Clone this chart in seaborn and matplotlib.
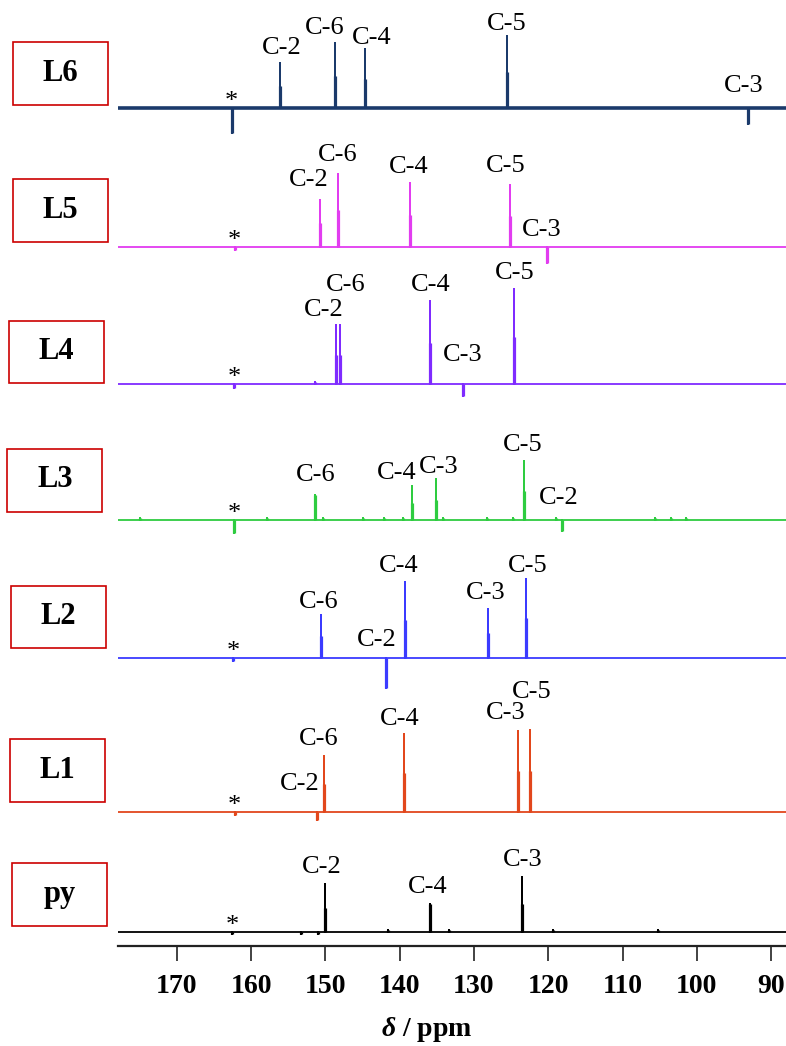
import numpy as np
import pandas as pd
import seaborn as sns
import matplotlib.pyplot as plt
from matplotlib.patches import Rectangle

# 1. Datos: desplazamientos (ppm) y alturas relativas de cada pico
names = ["L6", "L5", "L4", "L3", "L2", "L1", "py"]
colors = ["#1B3A6B", "#E23CF0", "#7F2BFF", "#2ECC40", "#3B3BFF", "#E2471C", "#000000"]

ppm_L6 = [162.5, 156.05, 148.7, 144.6, 125.5, 93.1]
int_L6 = [-25, 45, 65, 59, 72, -16]
ppm_L5 = [162.2, 150.74, 148.3, 138.65, 125.14, 120.14]
int_L5 = [-3, 47, 73, 64, 62, -16]
ppm_L4 = [162.3, 151.36, 148.5, 148.09, 135.85, 131.46, 124.6]
int_L4 = [-4, 2, 59, 59, 83, -12, 95]
ppm_L3 = [174.9, 162.3, 157.8, 151.36, 150.34, 144.9, 142.1, 139.5, 138.3, 135.13,
          134.1, 128.3, 124.7, 123.2, 119.0, 118.1, 105.6, 103.5, 101.5]
int_L3 = [2, -13, 2, 25, 2, 2, 2, 2, 34, 41, 2, 2, 2, 59, 2, -11, 2, 2, 2]
ppm_L2 = [162.4, 150.64, 141.87, 139.32, 128.1, 122.99]
int_L2 = [-3, 43, -30, 76, 49, 79]
ppm_L1 = [162.2, 151.15, 150.13, 139.42, 124.12, 122.48]
int_L1 = [-3, -8, 56, 78, 81, 82]
ppm_py = [162.5, 153.3, 151.05, 150.03, 141.56, 135.85, 133.4, 123.5, 119.4, 105.2]
int_py = [-2, -2, -2, 48, 2, 28, 2, 55, 2, 2]

# etiquetas de los carbonos
lab_L6 = ["C-2", "C-6", "C-4", "C-5", "C-3"]
lab_L5 = ["C-2", "C-6", "C-4", "C-5", "C-3"]
lab_L4 = ["C-2", "C-6", "C-4", "C-3", "C-5"]
lab_L3 = ["C-6", "C-4", "C-3", "C-5", "C-2"]
lab_L2 = ["C-6", "C-2", "C-4", "C-3", "C-5"]
lab_L1 = ["C-6", "C-2", "C-4", "C-3", "C-5"]
lab_py = ["C-2", "C-4", "C-3"]

tick_vals = [170, 160, 150, 140, 130, 120, 110, 100, 90]

spectra = [(ppm_L6, int_L6), (ppm_L5, int_L5), (ppm_L4, int_L4), (ppm_L3, int_L3),
           (ppm_L2, int_L2), (ppm_L1, int_L1), (ppm_py, int_py)]
labels = [lab_L6, lab_L5, lab_L4, lab_L3, lab_L2, lab_L1, lab_py]

# layout (posiciones en pixeles de la figura)
W, H = 786, 1046
AX_BOTTOM = 946
base_px = [108.3, 246.7, 384.3, 520, 657.7, 811.7, 931.7]
# posicion de cada etiqueta: (ppm, altura sobre la linea base)
lab_pos = [
    [(155.85, 60), (150.03, 80), (143.8, 70), (125.64, 84), (93.7, 22)],
    [(152.27, 67), (148.3, 92), (138.8, 80), (125.74, 81), (120.85, 17)],
    [(150.23, 74), (147.27, 99), (135.85, 99), (131.56, 29), (124.52, 111)],
    [(151.36, 45), (140.33, 47), (134.73, 53), (123.5, 75), (118.61, 22)],
    [(150.95, 56), (143.09, 18), (140.13, 92), (128.4, 65), (122.8, 92)],
    [(150.95, 73), (153.5, 28), (140.03, 93), (125.74, 99), (122.29, 120)],
    [(150.44, 65), (136.26, 45), (123.5, 72)],
]
star_ppm = [162.6, 162.3, 162.3, 162.3, 162.4, 162.3, 162.5]
boxes = [(13.3, 42.3), (12.7, 179), (9.3, 320.7), (7.3, 449), (11, 585.7), (10.3, 739.3), (11.7, 863.3)]

XMAX, XMIN = 177.9, 88.0

sns.set_style("white")
plt.rcParams['font.family'] = ['Liberation Serif', 'DejaVu Serif']
plt.rcParams['text.color'] = 'black'
plt.rcParams['xtick.color'] = 'black'
plt.rcParams['mathtext.fontset'] = 'custom'
plt.rcParams['mathtext.it'] = 'Liberation Serif:italic:bold'
plt.rcParams['mathtext.rm'] = 'Liberation Serif:bold'

fig = plt.figure(figsize=(W / 100, H / 100), dpi=100)
ax = fig.add_axes([118 / W, (H - AX_BOTTOM) / H, 1 - 118 / W, AX_BOTTOM / H])

for i, (pp, ii) in enumerate(spectra):
    base = AX_BOTTOM - base_px[i]
    order = np.argsort(pp)[::-1]
    xs, ys = [XMAX], [base]
    for k in order:
        xs += [pp[k], pp[k], pp[k]]
        ys += [base, base + ii[k], base]
    xs.append(XMIN)
    ys.append(base)
    df = pd.DataFrame({"ppm": xs, "y": ys})
    sns.lineplot(data=df, x="ppm", y="y", sort=False, estimator=None,
                 color=colors[i], lw=1.3, ax=ax)
    if i == 0:
        ax.axhline(base, color=colors[i], lw=2.6)
    # parte inferior mas gruesa de cada pico
    hh = np.array(ii, dtype=float)
    ax.vlines(pp, base, base + np.where(np.abs(hh) > 30, 0.5 * hh, hh),
              color=colors[i], lw=2.3)

    for lab, (px, dy) in zip(labels[i], lab_pos[i]):
        ax.text(px, base + dy, lab, ha="center", va="center", fontsize=19)
    ax.text(star_ppm[i], base + 6, "*", ha="center", va="center", fontsize=19)

    bx, by = boxes[i]
    fig.add_artist(Rectangle((bx / W, 1 - (by + 62.5) / H), 95 / W, 62.5 / H,
                             transform=fig.transFigure, fill=False,
                             edgecolor="#CC0000", lw=1.2))
    fig.text((bx + 47.5) / W, 1 - (by + 31) / H, names[i], ha="center", va="center",
             fontsize=22, fontweight="bold")

ax.set_xlim(XMAX, XMIN)
ax.set_ylim(0, AX_BOTTOM)
ax.set_xlabel("")
ax.set_ylabel("")
ax.set_yticks([])
for s in ["left", "right", "top"]:
    ax.spines[s].set_visible(False)
ax.spines["bottom"].set_linewidth(1.6)
ax.spines["bottom"].set_color("#222222")

ax.set_xticks(tick_vals)
ax.set_xticklabels([str(t) for t in tick_vals], fontsize=20, fontweight="bold")
ax.set_xticks([150, 100], minor=True)
ax.tick_params(axis="x", which="major", direction="out", length=11, width=1.2,
               pad=9, bottom=True, color="#222222")
ax.tick_params(axis="x", which="minor", direction="out", length=17, width=1.2,
               bottom=True, color="#222222")

fig.text(427 / W, 1 - 1030 / H, r"$\delta$ / ppm", ha="center", va="center",
         fontsize=20, fontweight="bold")

plt.savefig("out.png", dpi=100)
